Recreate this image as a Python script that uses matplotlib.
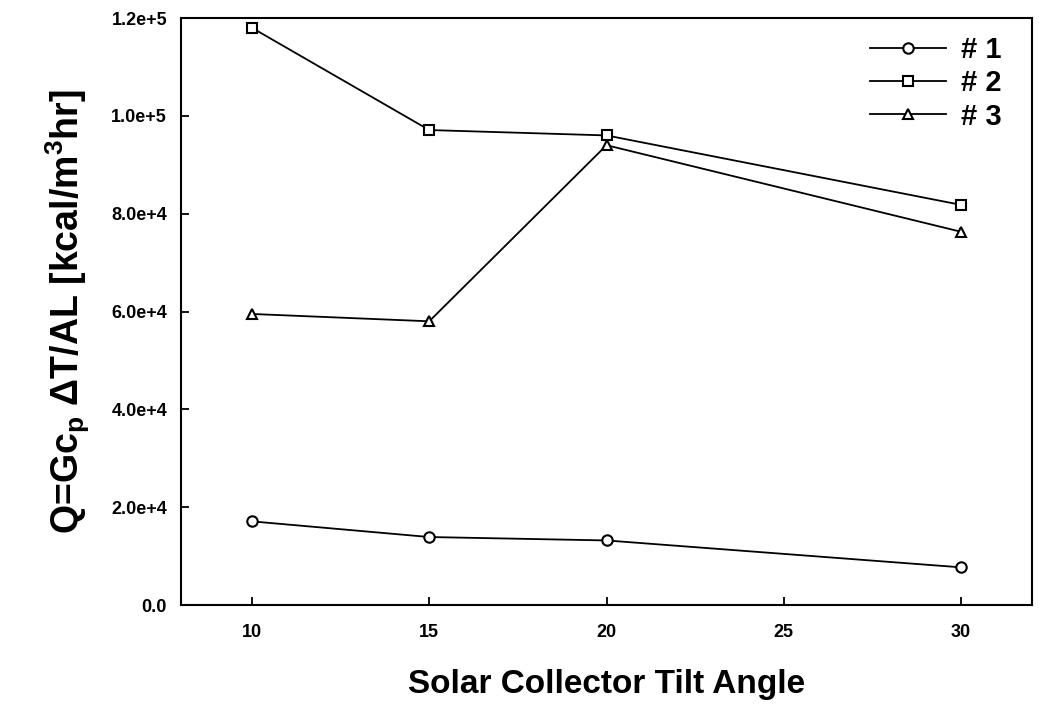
import numpy as np
import matplotlib
matplotlib.use('Agg')
import matplotlib.pyplot as plt

#%% datos
angulos = [10, 15, 20, 30]
serie_1 = [1.71e4, 1.39e4, 1.32e4, 0.77e4]
serie_2 = [1.18e5, 9.71e4, 9.60e4, 8.18e4]
serie_3 = [5.95e4, 5.80e4, 9.40e4, 7.63e4]
etiquetas = ['# 1', '# 2', '# 3']
marcadores = ['o', 's', '^']

yticks = [0, 2e4, 4e4, 6e4, 8e4, 1e5, 1.2e5]
ytick_labels = ['0.0', '2.0e+4', '4.0e+4', '6.0e+4', '8.0e+4', '1.0e+5', '1.2e+5']
xticks = [10, 15, 20, 25, 30]

plt.rcParams['font.family'] = ['Liberation Sans', 'DejaVu Sans']
plt.rcParams['font.weight'] = 'bold'
plt.rcParams['mathtext.fontset'] = 'custom'
plt.rcParams['mathtext.rm'] = 'Liberation Sans:bold'
plt.rcParams['mathtext.default'] = 'rm'

#%% figura
fig = plt.figure(figsize=(10.39, 7.04), dpi=100)
ax = fig.add_axes([0.1742, 0.1406, 0.8191, 0.8338])

for yy, mk, lab in zip([serie_1, serie_2, serie_3], marcadores, etiquetas):
    ax.plot(angulos, yy, color='black', lw=1.3, marker=mk, ms=7.5,
            mfc='white', mec='black', mew=1.5, label=lab)

ax.set_xlim(8, 32)
ax.set_ylim(0, 1.2e5)
ax.set_xticks(xticks)
ax.set_xticklabels([str(v) for v in xticks])
ax.set_yticks(yticks)
ax.set_yticklabels(ytick_labels)
ax.tick_params(direction='in', length=6, width=1.3, labelsize=13)
ax.tick_params(axis='x', pad=14)
ax.tick_params(axis='y', pad=10)
for s in ax.spines.values():
    s.set_linewidth(1.5)

ax.set_xlabel('Solar Collector Tilt Angle', fontsize=24, fontweight='bold', labelpad=20)
ax.set_ylabel(r'Q=Gc$_p$ $\Delta$T/AL [kcal/m$^3$hr]', fontsize=27,
              fontweight='bold', labelpad=14)

ax.legend(loc='upper right', bbox_to_anchor=(0.995, 1.014), frameon=False,
          fontsize=21, handlelength=2.6, handletextpad=0.5, labelspacing=0.18)

fig.savefig('out.png', dpi=100)
